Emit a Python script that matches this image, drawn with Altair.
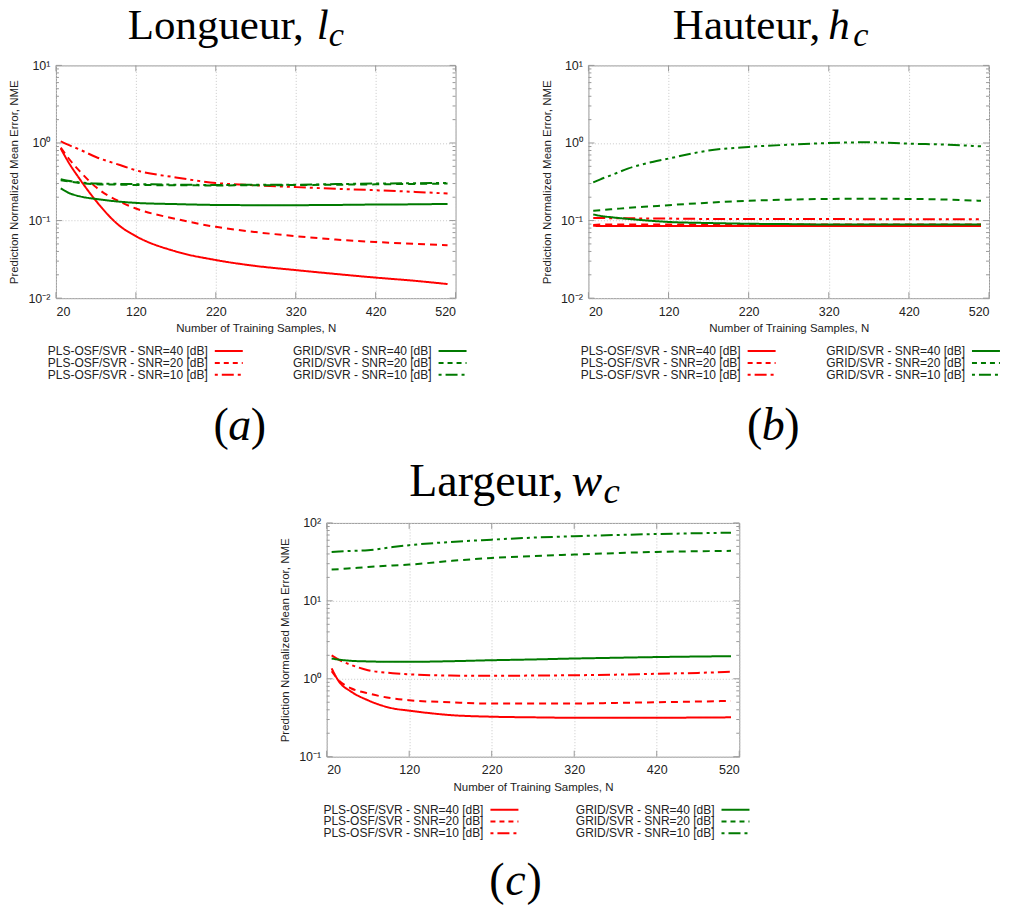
import altair as alt
import pandas as pd

# ---------------- data ----------------
N = [26, 35, 50, 70, 100, 120, 170, 220, 270, 320, 370, 420, 470, 510]
SERIES = ["PLS-OSF/SVR - SNR=40 [dB]", "PLS-OSF/SVR - SNR=20 [dB]", "PLS-OSF/SVR - SNR=10 [dB]",
          "GRID/SVR - SNR=40 [dB]", "GRID/SVR - SNR=20 [dB]", "GRID/SVR - SNR=10 [dB]"]
XTICKS = [20, 120, 220, 320, 420, 520]

# (a) Longueur
A_PLS40 = [0.85, 0.58, 0.34, 0.18, 0.085, 0.063, 0.040, 0.031, 0.026, 0.023, 0.0205, 0.0184, 0.0167, 0.0152]
A_PLS20 = [0.87, 0.65, 0.43, 0.27, 0.175, 0.143, 0.105, 0.083, 0.071, 0.063, 0.057, 0.053, 0.050, 0.048]
A_PLS10 = [1.05, 0.95, 0.82, 0.66, 0.52, 0.445, 0.36, 0.305, 0.285, 0.27, 0.257, 0.246, 0.234, 0.223]
A_GRID40 = [0.26, 0.23, 0.205, 0.19, 0.175, 0.169, 0.163, 0.159, 0.158, 0.158, 0.159, 0.161, 0.162, 0.164]
A_GRID20 = [0.33, 0.32, 0.305, 0.295, 0.29, 0.288, 0.285, 0.284, 0.285, 0.287, 0.29, 0.293, 0.297, 0.30]
A_GRID10 = [0.34, 0.325, 0.31, 0.30, 0.297, 0.295, 0.29, 0.288, 0.289, 0.29, 0.295, 0.30, 0.303, 0.306]

# (b) Hauteur
B_PLS40 = [0.086, 0.085, 0.085, 0.085, 0.085, 0.085, 0.085, 0.085, 0.085, 0.085, 0.085, 0.085, 0.085, 0.085]
B_PLS20 = [0.088, 0.089, 0.089, 0.089, 0.089, 0.089, 0.089, 0.089, 0.089, 0.089, 0.089, 0.089, 0.089, 0.089]
B_PLS10 = [0.108, 0.108, 0.107, 0.107, 0.106, 0.106, 0.105, 0.105, 0.105, 0.105, 0.104, 0.104, 0.104, 0.104]
B_GRID40 = [0.12, 0.115, 0.11, 0.105, 0.099, 0.096, 0.093, 0.091, 0.09, 0.089, 0.089, 0.089, 0.089, 0.089]
B_GRID20 = [0.134, 0.136, 0.14, 0.146, 0.153, 0.158, 0.17, 0.18, 0.186, 0.19, 0.191, 0.19, 0.186, 0.18]
B_GRID10 = [0.31, 0.34, 0.39, 0.47, 0.57, 0.63, 0.80, 0.89, 0.95, 1.0, 1.02, 0.98, 0.95, 0.905]

# (c) Largeur
C_PLS40 = [1.36, 0.92, 0.68, 0.53, 0.417, 0.39, 0.342, 0.326, 0.32, 0.316, 0.316, 0.316, 0.318, 0.32]
C_PLS20 = [1.25, 0.95, 0.75, 0.65, 0.56, 0.53, 0.50, 0.48, 0.48, 0.48, 0.49, 0.50, 0.51, 0.52]
C_PLS10 = [2.0, 1.75, 1.50, 1.29, 1.18, 1.14, 1.10, 1.09, 1.10, 1.11, 1.13, 1.16, 1.19, 1.23]
C_GRID40 = [1.82, 1.76, 1.70, 1.67, 1.65, 1.65, 1.68, 1.73, 1.77, 1.82, 1.86, 1.90, 1.93, 1.95]
C_GRID20 = [25.2, 25.5, 26.2, 27.2, 28.5, 29.2, 32.5, 35.6, 37.6, 39.3, 41.0, 42.5, 43.3, 43.8]
C_GRID10 = [42.5, 43.0, 43.8, 44.7, 49.0, 51.8, 57.0, 61.0, 64.8, 67.5, 70.0, 72.0, 73.8, 75.0]

# ---------------- styles ----------------
RED = "#ff0000"
GREEN = "#007a00"
COLORS = [RED, RED, RED, GREEN, GREEN, GREEN]
DASHES = [[1, 0], [7, 5], [12, 4, 3, 4, 3, 4], [1, 0], [7, 5], [12, 4, 3, 4, 3, 4]]
LEG_DASHES = [[1, 0], [5, 4], [3, 4, 12, 4, 3, 4], [1, 0], [5, 4], [3, 4, 12, 4, 3, 4]]
BOX = "#9a9a9a"
TXT = "#222222"
SANS = "Liberation Sans"
SERIF = "Liberation Serif"
DUMMY = pd.DataFrame({"d": [0]})

SUP = ("datum.value < 0.05 ? '10\u207b\u00b2' : datum.value < 0.5 ? '10\u207b\u00b9' : "
       "datum.value < 5 ? '10\u2070' : datum.value < 50 ? '10\u00b9' : '10\u00b2'")


def panel(vals, ydom, w, h, word, var, word_right, var_left, sub_left, title_y, tsize,
          letter, cap_cx, cap_y):
    rows = []
    for s, arr in zip(SERIES, vals):
        for n, v in zip(N, arr):
            rows.append({"N": n, "NME": v, "series": s})
    df = pd.DataFrame(rows)

    major = [10 ** k for k in range(-2, 3) if ydom[0] <= 10 ** k <= ydom[1]]
    minor = []
    for m in major[:-1]:
        minor += [m * k for k in range(2, 10)]

    xs = alt.Scale(domain=[20, 520], nice=False, zero=False)
    ys = alt.Scale(type="log", domain=ydom, nice=False)
    xax = alt.Axis(values=XTICKS, title="Number of Training Samples, N", grid=True,
                   gridDash=[1, 2], gridColor="#c8c8c8", domain=False, ticks=False,
                   labelPadding=7, titlePadding=5)
    yax = alt.Axis(values=major, labelExpr=SUP, title="Prediction Normalized Mean Error, NME",
                   grid=True, gridDash=[1, 2], gridColor="#c8c8c8", domain=False, ticks=False,
                   labelPadding=6, titlePadding=8)
    X = alt.X("N:Q", scale=xs, axis=xax)
    Y = alt.Y("NME:Q", scale=ys, axis=yax)

    lines = alt.Chart(df).mark_line(strokeWidth=2, interpolate="monotone", clip=True).encode(
        x=X, y=Y,
        color=alt.Color("series:N", scale=alt.Scale(domain=SERIES, range=COLORS), legend=None),
        strokeDash=alt.StrokeDash("series:N", scale=alt.Scale(domain=SERIES, range=DASHES), legend=None),
    )

    layers = [lines]
    ymaj = pd.DataFrame({"NME": major})
    ymin_ = pd.DataFrame({"NME": minor})
    xt = pd.DataFrame({"N": XTICKS})
    for dfv, ln in ((ymaj, 6), (ymin_, 3)):
        layers.append(alt.Chart(dfv).mark_rule(color=BOX, strokeWidth=1).encode(
            y=Y, x=alt.value(0), x2=alt.value(ln)))
        layers.append(alt.Chart(dfv).mark_rule(color=BOX, strokeWidth=1).encode(
            y=Y, x=alt.value(w - ln), x2=alt.value(w)))
    layers.append(alt.Chart(xt).mark_rule(color=BOX, strokeWidth=1).encode(
        x=X, y=alt.value(h), y2=alt.value(h - 6)))
    layers.append(alt.Chart(xt).mark_rule(color=BOX, strokeWidth=1).encode(
        x=X, y=alt.value(0), y2=alt.value(6)))

    # legend (two columns, label then line sample)
    col_text = [0.38 * w, 0.94 * w]
    for i, s in enumerate(SERIES):
        col, row = i // 3, i % 3
        yy = h + 53 + row * 11.8
        tx = col_text[col]
        layers.append(alt.Chart(DUMMY).mark_text(
            align="right", baseline="middle", font=SANS, fontSize=12, color=TXT).encode(
            x=alt.value(tx), y=alt.value(yy), text=alt.value(s)))
        layers.append(alt.Chart(DUMMY).mark_rule(
            color=COLORS[i], strokeWidth=2, strokeDash=LEG_DASHES[i]).encode(
            x=alt.value(tx + 7), x2=alt.value(tx + 35), y=alt.value(yy)))

    # title
    layers.append(alt.Chart(DUMMY).mark_text(
        align="right", baseline="alphabetic", font=SERIF, fontSize=tsize, color="#000").encode(
        x=alt.value(word_right), y=alt.value(title_y), text=alt.value(word)))
    layers.append(alt.Chart(DUMMY).mark_text(
        align="left", baseline="alphabetic", font=SERIF, fontSize=tsize, fontStyle="italic",
        color="#000").encode(x=alt.value(var_left), y=alt.value(title_y), text=alt.value(var)))
    layers.append(alt.Chart(DUMMY).mark_text(
        align="left", baseline="alphabetic", font=SERIF, fontSize=tsize * 0.8, fontStyle="italic",
        color="#000").encode(x=alt.value(sub_left), y=alt.value(title_y + 7), text=alt.value("c")))

    # caption
    layers.append(alt.Chart(DUMMY).mark_text(
        align="right", baseline="alphabetic", font=SERIF, fontSize=46, color="#000").encode(
        x=alt.value(cap_cx - 11), y=alt.value(cap_y), text=alt.value("(")))
    layers.append(alt.Chart(DUMMY).mark_text(
        align="center", baseline="alphabetic", font=SERIF, fontSize=46, fontStyle="italic",
        color="#000").encode(x=alt.value(cap_cx), y=alt.value(cap_y), text=alt.value(letter)))
    layers.append(alt.Chart(DUMMY).mark_text(
        align="left", baseline="alphabetic", font=SERIF, fontSize=46, color="#000").encode(
        x=alt.value(cap_cx + 11), y=alt.value(cap_y), text=alt.value(")")))

    return alt.layer(*layers).properties(width=w, height=h)


pa = panel([A_PLS40, A_PLS20, A_PLS10, A_GRID40, A_GRID20, A_GRID10], [0.01, 10], 400, 233,
           "Longueur,", "l", 248, 261, 273, -26, 43, "a", 184, 375)
pb = panel([B_PLS40, B_PLS20, B_PLS10, B_GRID40, B_GRID20, B_GRID10], [0.01, 10], 401, 233,
           "Hauteur,", "h", 232, 240, 265, -26, 43, "b", 185, 375)
pc = panel([C_PLS40, C_PLS20, C_PLS10, C_GRID40, C_GRID20, C_GRID10], [0.1, 100], 413, 234,
           "Largeur,", "w", 237, 245, 277, -27, 46, "c", 189, 372)

spacer = alt.Chart(DUMMY).mark_point(opacity=0).encode(
    x=alt.value(0), y=alt.value(0)).properties(
    width=222, height=10, view=alt.ViewBackground(stroke="transparent"))

top = alt.hconcat(pa, pb, spacing=72)
bottom = alt.hconcat(spacer, pc, spacing=0)

chart = alt.vconcat(top, bottom, spacing=8).properties(
    padding={"top": -4, "left": 0, "right": 0, "bottom": 0}
).configure_view(
    stroke=BOX, strokeWidth=1
).configure_axis(
    labelFont=SANS, titleFont=SANS, labelColor=TXT, titleColor=TXT,
    labelFontSize=12.5, titleFontSize=11.5, titleFontWeight="normal"
)

chart.save("out.html", embed_options={"renderer": "svg", "actions": False})
